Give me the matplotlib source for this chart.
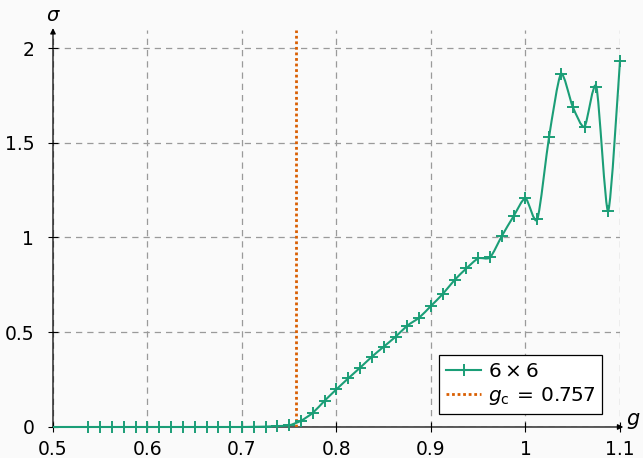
import matplotlib
matplotlib.use("Agg")
import matplotlib.pyplot as plt
import numpy as np
from matplotlib.path import Path
from matplotlib.patches import PathPatch
from matplotlib.lines import Line2D

# 数据 (6 x 6)
g_vals = [0.5, 0.5375, 0.55, 0.5625, 0.575, 0.5875, 0.6, 0.6125, 0.625, 0.6375,
          0.65, 0.6625, 0.675, 0.6875, 0.7, 0.7125, 0.725, 0.7375, 0.75, 0.7625,
          0.775, 0.7875, 0.8, 0.8125, 0.825, 0.8375, 0.85, 0.8625, 0.875, 0.8875,
          0.9, 0.9125, 0.925, 0.9375, 0.95, 0.9625, 0.975, 0.9875, 1.0, 1.0125,
          1.025, 1.0375, 1.05, 1.0625, 1.075, 1.0875, 1.1]
sigma_vals = [0.0, 0.0, 0.0, 0.0, 0.0, 0.0, 0.0, 0.0, 0.0, 0.0,
              0.0, 0.0, 0.0, 0.0, 0.0, 0.001, 0.002, 0.005, 0.009, 0.033,
              0.075, 0.139, 0.199, 0.257, 0.313, 0.371, 0.424, 0.476, 0.535, 0.577,
              0.639, 0.702, 0.776, 0.837, 0.89, 0.895, 1.008, 1.113, 1.207, 1.096,
              1.532, 1.863, 1.69, 1.585, 1.796, 1.14, 1.931]
g_c = 0.757

GREEN = "#1b9e77"
ORANGE = "#d95f02"
BG = "#fafafa"

plt.rcParams["font.family"] = ["DejaVu Sans"]
plt.rcParams["mathtext.fontset"] = "dejavusans"

fig = plt.figure(figsize=(6.43, 4.58), dpi=100, facecolor=BG)
ax = fig.add_axes([0.0824, 0.0677, 0.8818, 0.8668])
ax.set_facecolor(BG)

xmin, xmax = 0.5, 1.1
ymin, ymax = 0.0, 2.095
ax.set_xlim(xmin, xmax)
ax.set_ylim(ymin, ymax)

# 网格
ax.set_xticks([0.5, 0.6, 0.7, 0.8, 0.9, 1.0, 1.1])
ax.set_xticklabels(["0.5", "0.6", "0.7", "0.8", "0.9", "1", "1.1"])
ax.set_yticks([0, 0.5, 1, 1.5, 2])
ax.set_yticklabels(["0", "0.5", "1", "1.5", "2"])
ax.grid(True, color="#9a9a9a", linestyle=(0, (5, 4)), linewidth=0.9)
ax.set_axisbelow(True)
ax.tick_params(direction="inout", length=7, width=0.8, labelsize=13.5)
ax.tick_params(axis="x", pad=6)
ax.tick_params(axis="y", pad=10)
for s in ["top", "right", "left", "bottom"]:
    ax.spines[s].set_visible(False)

# 坐标轴箭头
ax.annotate("", xy=(1.1035, 0), xytext=(0.5, 0), xycoords="data",
            arrowprops=dict(arrowstyle="-|>", color="black", lw=0.9,
                            mutation_scale=8, shrinkA=0, shrinkB=0),
            annotation_clip=False)
ax.annotate("", xy=(0.5, 2.105), xytext=(0.5, 0), xycoords="data",
            arrowprops=dict(arrowstyle="-|>", color="black", lw=0.9,
                            mutation_scale=8, shrinkA=0, shrinkB=0),
            annotation_clip=False)
ax.text(1.106, 0.03, r"$g$", fontsize=15, ha="left", va="center")
ax.text(0.5, 2.17, r"$\sigma$", fontsize=14, ha="center", va="center")

# 临界值
ax.plot([g_c, g_c], [0, ymax], color=ORANGE, linestyle=(0, (1, 1)), linewidth=2.0,
        zorder=3)

# 平滑曲线 (近似 pgfplots smooth)
pts = np.column_stack([g_vals, sigma_vals])
t = 0.12
verts = [pts[0]]
codes = [Path.MOVETO]
n = len(pts)
for i in range(n - 1):
    p0 = pts[i - 1] if i > 0 else pts[i]
    p1 = pts[i]
    p2 = pts[i + 1]
    p3 = pts[i + 2] if i + 2 < n else pts[i + 1]
    c1 = p1 + (p2 - p0) * t
    c2 = p2 - (p3 - p1) * t
    verts += [c1, c2, p2]
    codes += [Path.CURVE4] * 3
ax.add_patch(PathPatch(Path(verts, codes), facecolor="none", edgecolor=GREEN,
                       linewidth=1.5, zorder=4, clip_on=False))
ax.plot(g_vals[1:], sigma_vals[1:], linestyle="none", marker="+", markersize=8.5,
        markeredgewidth=1.4, color=GREEN, zorder=5, clip_on=False)

handles = [Line2D([], [], color=GREEN, marker="+", markersize=8.5, markeredgewidth=1.4,
                  linewidth=1.5, markevery=[1]),
           Line2D([], [], color=ORANGE, linestyle=(0, (1, 1)), linewidth=2.0)]
leg = ax.legend(handles, [r"$6 \times 6$", r"$g_\mathrm{c} \,=\, 0.757$"],
                loc="lower right", bbox_to_anchor=(0.969, 0.033), fontsize=14.5,
                frameon=True, fancybox=False, edgecolor="black", facecolor="white",
                framealpha=1, handlelength=1.75, handletextpad=0.35,
                borderpad=0.35, labelspacing=0.2, borderaxespad=0)
leg.get_frame().set_linewidth(0.9)

fig.savefig("out.png", dpi=100, facecolor=BG)
